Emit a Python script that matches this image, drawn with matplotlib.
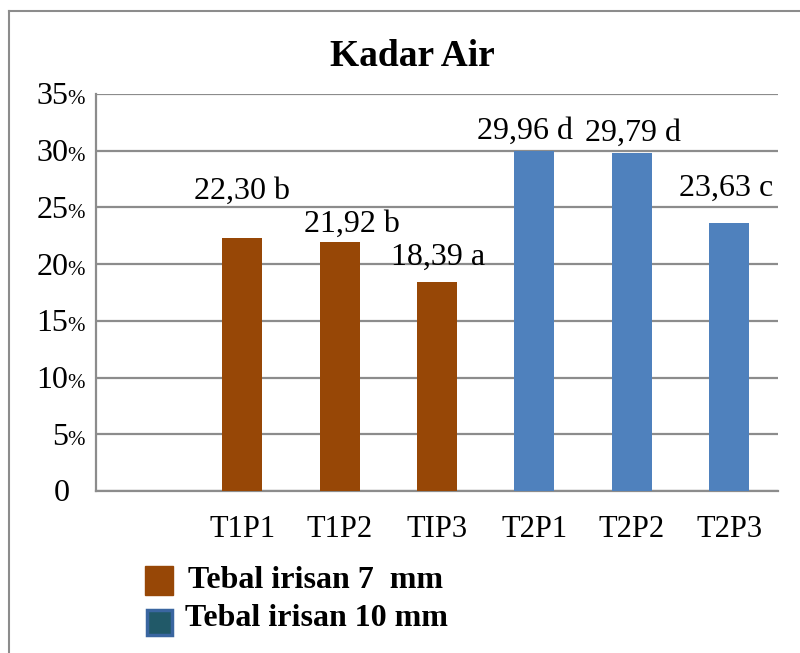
import numpy as np
import matplotlib.pyplot as plt
from matplotlib.patches import Rectangle
from matplotlib.lines import Line2D
import matplotlib.transforms as mtransforms

## data
categories = ['', 'T1P1', 'T1P2', 'TIP3', 'T2P1', 'T2P2', 'T2P3']
values = [np.nan, 22.30, 21.92, 18.39, 29.96, 29.79, 23.63]
letters = ['', 'b', 'b', 'a', 'd', 'd', 'c']
groups = [0, 0, 0, 0, 1, 1, 1]
yticks = [0, 5, 10, 15, 20, 25, 30, 35]
legend_labels = ['Tebal irisan 7  mm', 'Tebal irisan 10 mm']

# label nudges (pixels), labels were moved by hand in the original
lab_dx = [0, 0, 12, 1, -9, 1, -3]
lab_dy = [0, 47, 18, 25, 20, 20, 35]

brown = '#974706'
blue = '#4F81BD'
grid = '#8C8C8C'

plt.rcParams['font.family'] = ['Liberation Serif', 'DejaVu Serif']

fig = plt.figure(figsize=(8, 6.53), dpi=100)
W, H = 800, 653
ax = fig.add_axes([96 / W, 1 - 491 / H, (778 - 96) / W, (491 - 94) / H])

x = np.arange(len(categories))
cols = [brown if g == 0 else blue for g in groups]
ax.bar(x, values, width=0.41, color=cols, zorder=3)

ax.set_xlim(-0.5, len(categories) - 0.5)
ax.set_ylim(0, 35)

# value labels
for i in range(len(x)):
    v = values[i]
    if np.isnan(v):
        continue
    lab = ('%.2f' % v).replace('.', ',') + ' ' + letters[i]
    ax.annotate(lab, xy=(x[i], v), xytext=(lab_dx[i], lab_dy[i]), textcoords='offset pixels',
                ha='center', va='center', fontsize=23)

# y grid and labels
for yt in yticks:
    ax.axhline(yt, color=grid, lw=1.6, zorder=1)
ax.set_yticks([])
ax.set_xticks(x)
ax.set_xticklabels(categories, fontsize=22)
ax.tick_params(axis='x', length=0, pad=17)

trans = mtransforms.blended_transform_factory(ax.transAxes, ax.transData)
for yt in yticks:
    if yt == 0:
        ax.annotate('0', xy=(0, yt), xycoords=trans, xytext=(-19, -7.5),
                    textcoords='offset points', ha='right', va='baseline', fontsize=23)
    else:
        ax.annotate('%', xy=(0, yt), xycoords=trans, xytext=(-8, -7.5),
                    textcoords='offset points', ha='right', va='baseline', fontsize=15)
        ax.annotate(str(yt), xy=(0, yt), xycoords=trans, xytext=(-20, -7.5),
                    textcoords='offset points', ha='right', va='baseline', fontsize=23)

for s in ['top', 'right']:
    ax.spines[s].set_visible(False)
for s in ['left', 'bottom']:
    ax.spines[s].set_color(grid)
    ax.spines[s].set_linewidth(1.6)

fig.text(412 / W, 1 - 56 / H, 'Kadar Air', ha='center', va='center',
         fontsize=27, fontweight='bold')

# legend
fig.add_artist(Rectangle((145 / W, 1 - 595 / H), 28 / W, 29 / H,
                         transform=fig.transFigure, facecolor=brown, edgecolor=brown))
fig.add_artist(Rectangle((147 / W, 1 - 635 / H), 25 / W, 25 / H,
                         transform=fig.transFigure, facecolor='#215968',
                         edgecolor='#3A66A0', linewidth=2.5))
fig.text(188 / W, 1 - 581 / H, legend_labels[0], ha='left', va='center',
         fontsize=23, fontweight='bold')
fig.text(185 / W, 1 - 618 / H, legend_labels[1], ha='left', va='center',
         fontsize=23, fontweight='bold')

# outer frame
fig.add_artist(Line2D([9 / W, 9 / W], [0, 1 - 11 / H], color='#8C8C8C', lw=1.5))
fig.add_artist(Line2D([9 / W, 1], [1 - 11 / H, 1 - 11 / H], color='#8C8C8C', lw=1.5))

fig.savefig('out.png', dpi=100)
